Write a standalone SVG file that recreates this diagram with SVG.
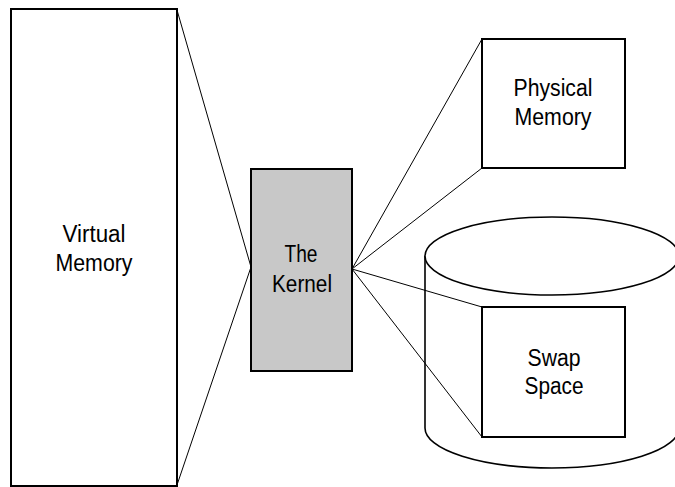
<svg xmlns="http://www.w3.org/2000/svg" width="675" height="487" viewBox="0 0 675 487">
<style>
.box{fill:#fff;stroke:#000;stroke-width:2}
.kernel{fill:#c8c8c8;stroke:#000;stroke-width:2}
.cyl{fill:#fff;stroke:#000;stroke-width:1.6}
.conn{stroke:#000;stroke-width:1;fill:none}
text{font-family:"Liberation Sans",Arial,sans-serif;font-size:23.5px;fill:#000;text-anchor:middle}
</style>
<rect width="675" height="487" fill="#fff"/>
<g id="swap-disk">
<path class="cyl" d="M425,256 L425,428 A127,40 0 0 0 679,428 L679,256"/>
<ellipse class="cyl" cx="552" cy="256" rx="127" ry="39"/>
</g>
<g id="connectors">
<line class="conn" x1="177" y1="10" x2="251" y2="267"/>
<line class="conn" x1="177" y1="485" x2="251" y2="267"/>
<line class="conn" x1="352" y1="269" x2="482" y2="39"/>
<line class="conn" x1="352" y1="269" x2="482" y2="168"/>
<line class="conn" x1="352" y1="269" x2="482" y2="307"/>
<line class="conn" x1="352" y1="269" x2="482" y2="437"/>
</g>
<g id="virtual-memory">
<rect class="box" x="11" y="9" width="166" height="477"/>
<text x="94" y="242" textLength="63" lengthAdjust="spacingAndGlyphs">Virtual</text>
<text x="94" y="271" textLength="77" lengthAdjust="spacingAndGlyphs">Memory</text>
</g>
<g id="kernel">
<rect class="kernel" x="251" y="169" width="101" height="202"/>
<text x="301" y="262" textLength="33" lengthAdjust="spacingAndGlyphs">The</text>
<text x="302" y="292" textLength="60" lengthAdjust="spacingAndGlyphs">Kernel</text>
</g>
<g id="physical-memory">
<rect class="box" x="482" y="39" width="143" height="129"/>
<text x="553" y="96" textLength="79" lengthAdjust="spacingAndGlyphs">Physical</text>
<text x="553" y="125" textLength="77" lengthAdjust="spacingAndGlyphs">Memory</text>
</g>
<g id="swap-space">
<rect class="box" x="482" y="307" width="143" height="130"/>
<text x="554" y="366" textLength="53" lengthAdjust="spacingAndGlyphs">Swap</text>
<text x="554" y="394" textLength="59" lengthAdjust="spacingAndGlyphs">Space</text>
</g>
</svg>
